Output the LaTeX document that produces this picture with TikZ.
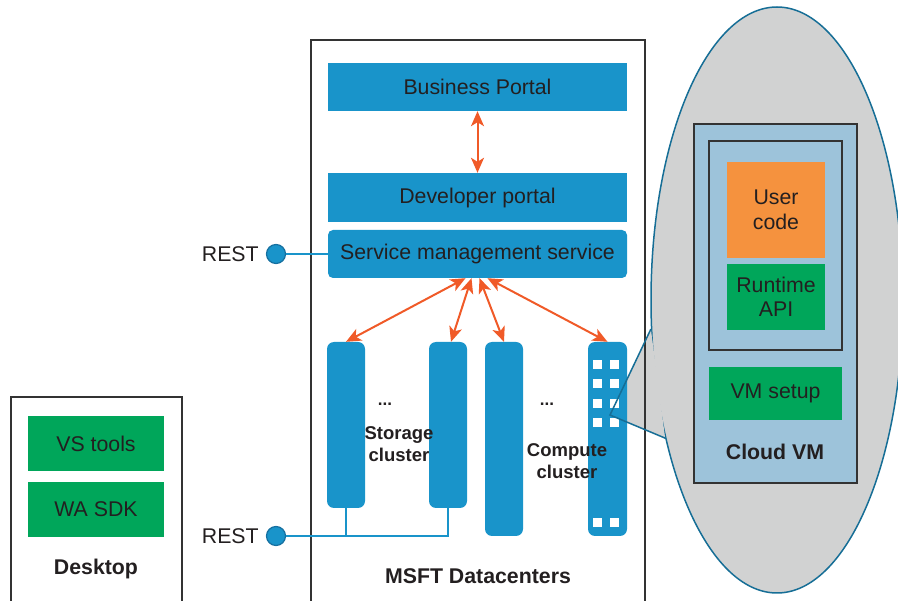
\documentclass[tikz,border=0pt]{standalone}
\usepackage{fontspec}
\setmainfont{Liberation Sans}
\usetikzlibrary{arrows.meta,positioning,shapes.geometric}

\definecolor{azblue}{RGB}{25,148,202}
\definecolor{dotrim}{RGB}{22,112,160}
\definecolor{framegray}{RGB}{51,51,51}
\definecolor{arroworange}{RGB}{240,90,40}
\definecolor{vmgreen}{RGB}{0,166,90}
\definecolor{codeorange}{RGB}{245,146,62}
\definecolor{vmblue}{RGB}{157,195,218}
\definecolor{calloutgray}{RGB}{209,210,210}
\definecolor{calloutline}{RGB}{22,110,150}
\definecolor{ink}{RGB}{35,31,32}

\begin{document}
\begin{tikzpicture}[x=1pt, y=-1pt, >=Stealth,
  every node/.style={font=\fontsize{21.3}{25}\selectfont, text=ink, inner sep=0pt},
  panel/.style={draw=framegray, line width=1.5pt},
  bluebox/.style={fill=azblue, minimum width=299},
  bar/.style={fill=azblue, rounded corners=7pt, minimum width=38},
  greenbox/.style={fill=vmgreen},
  vmbox/.style={fill=vmblue, draw=framegray, line width=2pt},
  biarrow/.style={<->, draw=arroworange, line width=2pt,
    >={Stealth[length=15pt,width=13pt,inset=4pt]}},
  link/.style={draw=azblue, line width=1.5pt},
  restdot/.style={circle, fill=azblue, draw=dotrim, line width=1.2pt, minimum size=19},
  boldtext/.style={font=\bfseries\fontsize{21.3}{25}\selectfont},
  clustertext/.style={font=\bfseries\fontsize{18.5}{22.5}\selectfont, align=center}]

  \useasboundingbox (0,0) rectangle (898,601);

  %-------------------------
  % Zoom bubble behind everything
  %-------------------------
  \node[ellipse, fill=calloutgray, draw=calloutline, line width=1.5pt,
    minimum width=252, minimum height=586] (zoom) at (777,300) {};
  \coordinate (tip) at (610,415);
  \fill[calloutgray] (zoom.193.9) -- (tip) -- (zoom.231) -- cycle;

  %-------------------------
  % Frames
  %-------------------------
  \node[panel, minimum width=334, minimum height=564] (dc) at (478,322) {};
  \node[panel, minimum width=171, minimum height=207] (desk) at (96.5,500.5) {};

  %-------------------------
  % Datacenter services
  %-------------------------
  \node[bluebox, minimum height=48] (bp) at (477.5,87) {Business Portal};
  \node[bluebox, minimum height=49] (dp) at (477.5,197.5) {Developer portal};
  \node[bluebox, minimum height=48, rounded corners=5pt] (sms) at (477.5,254)
    {Service management service};

  % Cluster bars
  \node[bar, minimum height=166] (bar1) at (346,425) {};
  \node[bar, minimum height=166] (bar2) at (448,425) {};
  \node[bar, minimum height=194] (bar3) at (504,439) {};
  \node[bar, minimum height=194, minimum width=39] (bar4) at (607.5,439) {};

  % VM slots in the last compute node
  \foreach \y in {364.5,383.5,404,423,523}
    \foreach \x in {597,614}
      \fill[white] (\x-4.5,\y-4.5) rectangle ++(9,9);

  % Bubble edges over the compute node
  \draw[calloutline, line width=1.5pt] (zoom.193.9) -- (tip) -- (zoom.231);

  % Labels
  \node[font=\bfseries\fontsize{17}{20}\selectfont] (dots1) at (385,404) {...};
  \node[font=\bfseries\fontsize{17}{20}\selectfont] (dots2) at (547,404) {...};
  \node[clustertext] (stor) at (399,444) {Storage\\cluster};
  \node[clustertext] (comp) at (567,461) {Compute\\cluster};
  \node[boldtext] (dclabel) at (478,576) {MSFT Datacenters};

  % Arrows
  \draw[biarrow] (bp.south) -- (dp.north);
  \draw[biarrow] ([xshift=-12pt]sms.south) -- (bar1.north);
  \draw[biarrow] ([xshift=-6pt]sms.south) -- ([xshift=3pt]bar2.north);
  \draw[biarrow] ([xshift=2pt]sms.south) -- (bar3.north);
  \draw[biarrow] ([xshift=10pt]sms.south) -- (bar4.north);

  %-------------------------
  % REST endpoints
  %-------------------------
  \node[restdot] (rest1) at (276,254) {};
  \node[left=7pt of rest1] (rest1text) {REST};
  \draw[link] (rest1) -- (sms.west);

  \node[restdot] (rest2) at (276,536) {};
  \node[left=7pt of rest2] (rest2text) {REST};
  \draw[link] (rest2) -- (bar2.south |- rest2) -- (bar2.south);
  \draw[link] (bar1.south) -- (bar1.south |- rest2);

  %-------------------------
  % Desktop
  %-------------------------
  \node[greenbox, minimum width=136, minimum height=55] (vs) at (96,443.5) {VS tools};
  \node[greenbox, minimum width=136, minimum height=55] (sdk) at (96,509.5) {WA SDK};
  \node[boldtext] (desklabel) at (96,569) {Desktop};

  %-------------------------
  % Cloud VM (inside bubble)
  %-------------------------
  \node[vmbox, minimum width=163, minimum height=359] (vm) at (775.5,303.5) {};
  \node[vmbox, minimum width=133, minimum height=209] (vmin) at (775.5,245.5) {};
  \node[fill=codeorange, minimum width=98, minimum height=96, align=center]
    (code) at (776,210) {User\\code};
  \node[greenbox, minimum width=98, minimum height=66, align=center,
    font=\fontsize{21.3}{24}\selectfont] (api) at (776,297) {Runtime\\API};
  \node[greenbox, minimum width=133, minimum height=53] (setup) at (775.5,393.5) {VM setup};
  \node[boldtext] (vmlabel) at (775,452) {Cloud VM};

\end{tikzpicture}
\end{document}
